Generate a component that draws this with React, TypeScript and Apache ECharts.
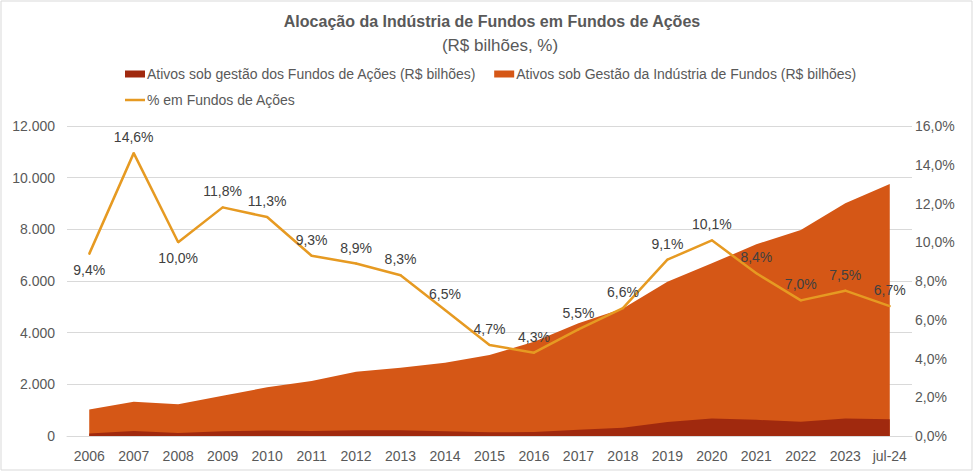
import React, { useEffect, useRef } from "react";
import * as echarts from "echarts";

const categories = ["2006","2007","2008","2009","2010","2011","2012","2013","2014","2015","2016","2017","2018","2019","2020","2021","2022","2023","jul-24"];
const equityFunds = [95,190,120,180,210,195,220,220,185,145,155,240,320,545,675,625,555,675,650];
const industryTotal = [1030,1330,1225,1560,1885,2130,2490,2645,2840,3135,3650,4360,4940,5975,6685,7420,7975,9010,9755];
const pctEquity = [9.4,14.6,10.0,11.8,11.3,9.3,8.9,8.3,6.5,4.7,4.3,5.5,6.6,9.1,10.1,8.4,7.0,7.5,6.7];
const labelBelow = ["2006","2008"];

const TITLE = "Alocação da Indústria de Fundos em Fundos de Ações";
const SUBTITLE = "(R$ bilhões, %)";
const NAME_EQ = "Ativos sob gestão dos Fundos de Ações (R$ bilhões)";
const NAME_IND = "Ativos sob Gestão da Indústria de Fundos (R$ bilhões)";
const NAME_PCT = "% em Fundos de Ações";

const FONT = "'Liberation Sans', Arial, sans-serif";
const TXT = "#595959";
const C_EQ = "#A0290E";
const C_IND = "#D55716";
const C_PCT = "#E69A22";

export default function App() {
  const ref = useRef<HTMLDivElement>(null);
  useEffect(() => {
    if (!ref.current) return;
    const chart = echarts.init(ref.current, undefined, { renderer: "svg" });
    const fmtThousands = (v: number) => String(v).replace(/\B(?=(\d{3})+(?!\d))/g, ".");
    const fmtPct = (v: number) => v.toFixed(1).replace(".", ",") + "%";

    chart.setOption({
      animation: false,
      backgroundColor: "#ffffff",
      textStyle: { fontFamily: FONT },
      graphic: [
        {
          type: "rect",
          shape: { x: 1, y: 1, width: 971, height: 469 },
          style: { fill: "none", stroke: "#d9d9d9", lineWidth: 1 },
          silent: true,
          z: -10,
        },
      ],
      title: [
        {
          text: TITLE,
          left: 487,
          textAlign: "center",
          top: 8,
          textStyle: { fontFamily: FONT, fontSize: 16, fontWeight: "bold", color: TXT },
        },
        {
          text: SUBTITLE,
          left: 495,
          textAlign: "center",
          top: 32,
          textStyle: { fontFamily: FONT, fontSize: 17, fontWeight: "normal", color: TXT },
        },
      ],
      legend: [
        {
          data: [NAME_EQ, NAME_IND],
          left: 125,
          top: 67,
          padding: 0,
          itemWidth: 20,
          itemHeight: 7,
          itemGap: 18,
          icon: "rect",
          textStyle: { fontFamily: FONT, fontSize: 14, color: TXT, padding: [0, 0, 0, -3] },
        },
        {
          data: [{ name: NAME_PCT, icon: "rect", itemStyle: { color: C_PCT } }],
          left: 125,
          top: 93,
          padding: 0,
          itemWidth: 20,
          itemHeight: 2.5,
          textStyle: { fontFamily: FONT, fontSize: 14, color: TXT, padding: [0, 0, 0, -3] },
        },
      ],
      grid: { left: 67, right: 63, top: 126, bottom: 37, containLabel: false },
      xAxis: {
        type: "category",
        data: categories,
        boundaryGap: true,
        axisLine: { show: true, lineStyle: { color: "#d9d9d9", width: 1 } },
        axisTick: { show: false },
        axisLabel: { color: TXT, fontSize: 14, margin: 13, interval: 0, fontFamily: FONT },
      },
      yAxis: [
        {
          type: "value",
          min: 0,
          max: 12000,
          interval: 2000,
          axisLine: { show: false },
          axisTick: { show: false },
          splitLine: { lineStyle: { color: "#d9d9d9", width: 1 } },
          axisLabel: { color: TXT, fontSize: 14, margin: 12, formatter: fmtThousands, fontFamily: FONT },
        },
        {
          type: "value",
          min: 0,
          max: 16,
          interval: 2,
          axisLine: { show: false },
          axisTick: { show: false },
          splitLine: { show: false },
          axisLabel: { color: TXT, fontSize: 14, margin: 3, formatter: (v: number) => fmtPct(v), fontFamily: FONT },
        },
      ],
      series: [
        {
          name: NAME_IND,
          type: "line",
          data: industryTotal,
          yAxisIndex: 0,
          symbol: "none",
          lineStyle: { width: 0 },
          itemStyle: { color: C_IND },
          areaStyle: { color: C_IND, opacity: 1 },
          z: 1,
        },
        {
          name: NAME_EQ,
          type: "line",
          data: equityFunds,
          yAxisIndex: 0,
          symbol: "none",
          lineStyle: { width: 0 },
          itemStyle: { color: C_EQ },
          areaStyle: { color: C_EQ, opacity: 1 },
          z: 2,
        },
        {
          name: NAME_PCT,
          type: "line",
          yAxisIndex: 1,
          data: pctEquity.map((v, i) => ({
            value: v,
            label: { position: labelBelow.includes(categories[i]) ? "bottom" : "top" },
          })),
          symbol: "circle",
          symbolSize: 2,
          showSymbol: true,
          lineStyle: { color: C_PCT, width: 2.5 },
          itemStyle: { color: C_PCT },
          label: {
            show: true,
            position: "top",
            distance: 8,
            color: "#404040",
            fontSize: 14,
            fontFamily: FONT,
            formatter: (p: any) => fmtPct(p.value),
          },
          labelLayout: { hideOverlap: false },
          z: 3,
        },
      ],
    });
    return () => chart.dispose();
  }, []);
  return (
    <div
      ref={ref}
      style={{ position: "absolute", left: 0, top: 0, width: 975, height: 473 }}
    />
  );
}
